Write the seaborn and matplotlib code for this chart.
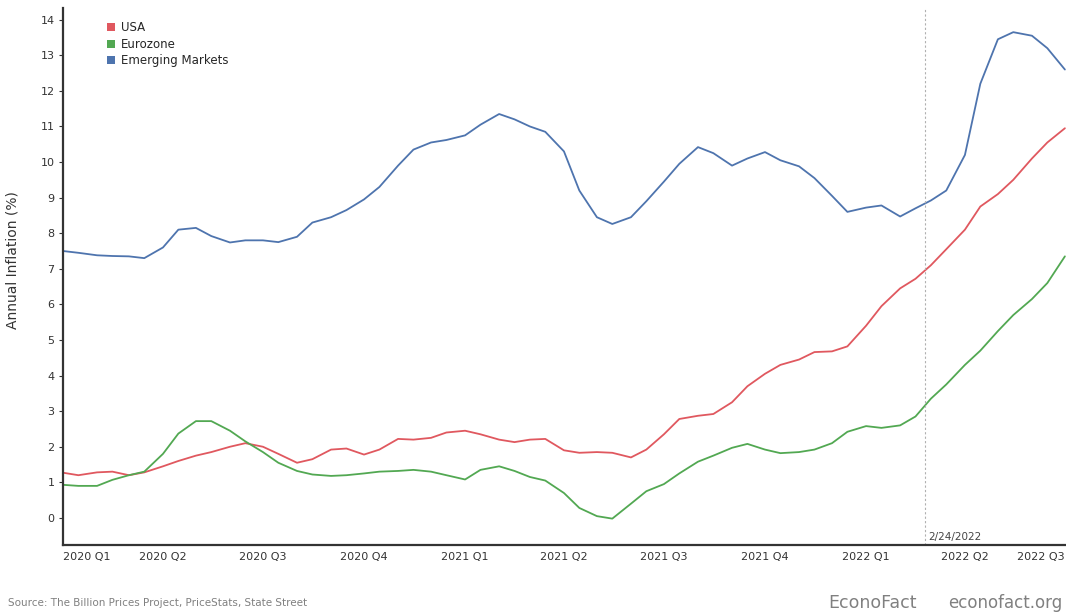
import matplotlib
matplotlib.use("Agg")
import matplotlib.pyplot as plt
from matplotlib.patches import Patch
import pandas as pd
import seaborn as sns

# semi-monthly sample dates (1st and 15th), Jan 2020 - Jul 2022
dates = pd.date_range("2020-01-01", "2022-07-01", freq="SMS")

usa = [1.27, 1.2, 1.28, 1.3, 1.2, 1.28, 1.45, 1.6, 1.75, 1.85, 2.0, 2.1, 2.0, 1.8,
       1.55, 1.65, 1.92, 1.95, 1.78, 1.92, 2.22, 2.2, 2.25, 2.4, 2.45, 2.35, 2.2,
       2.13, 2.2, 2.22, 1.9, 1.83, 1.85, 1.83, 1.7, 1.92, 2.35, 2.78, 2.87, 2.92,
       3.25, 3.7, 4.05, 4.3, 4.45, 4.66, 4.68, 4.82, 5.4, 5.95, 6.45, 6.72, 7.1,
       7.55, 8.1, 8.75, 9.1, 9.5, 10.1, 10.55, 10.95]
eurozone = [0.93, 0.9, 0.9, 1.07, 1.2, 1.3, 1.8, 2.37, 2.72, 2.72, 2.45, 2.15, 1.85,
            1.55, 1.32, 1.22, 1.18, 1.2, 1.25, 1.3, 1.32, 1.35, 1.3, 1.2, 1.08,
            1.35, 1.45, 1.32, 1.15, 1.05, 0.7, 0.28, 0.05, -0.02, 0.4, 0.75, 0.95,
            1.25, 1.58, 1.75, 1.97, 2.08, 1.92, 1.82, 1.85, 1.92, 2.1, 2.42, 2.58,
            2.53, 2.6, 2.85, 3.35, 3.75, 4.3, 4.7, 5.25, 5.7, 6.15, 6.6, 7.35]
emerging = [7.5, 7.45, 7.38, 7.36, 7.35, 7.3, 7.6, 8.1, 8.15, 7.92, 7.74, 7.8, 7.8,
            7.75, 7.9, 8.3, 8.45, 8.65, 8.95, 9.3, 9.9, 10.35, 10.55, 10.62, 10.75,
            11.05, 11.35, 11.2, 11.0, 10.85, 10.3, 9.2, 8.45, 8.26, 8.45, 8.9, 9.45,
            9.95, 10.42, 10.25, 9.9, 10.1, 10.28, 10.05, 9.88, 9.55, 9.05, 8.6,
            8.72, 8.78, 8.47, 8.7, 8.92, 9.2, 10.2, 12.2, 13.45, 13.65, 13.55,
            13.2, 12.6]

series_names = ["USA", "Eurozone", "Emerging Markets"]
colors = ["#e0585f", "#52a852", "#4e74ae"]

quarter_ticks = pd.date_range("2020-01-01", "2022-07-01", freq="QS")
quarter_labels = ["2020 Q1", "2020 Q2", "2020 Q3", "2020 Q4", "2021 Q1", "2021 Q2",
                  "2021 Q3", "2021 Q4", "2022 Q1", "2022 Q2", "2022 Q3"]
invasion_date = pd.Timestamp("2022-02-24")

df = pd.concat([
    pd.DataFrame({"Date": dates, "Inflation": vals, "Series": name})
    for name, vals in zip(series_names, [usa, eurozone, emerging])
])

sns.set_theme(style="white")
plt.rcParams["font.family"] = ["DejaVu Sans"]

fig = plt.figure(figsize=(10.66, 6.13), dpi=100)
ax = fig.add_axes([0.0591, 0.111, 0.9409, 0.876])

sns.lineplot(data=df, x="Date", y="Inflation", hue="Series",
             hue_order=series_names, palette=colors, linewidth=1.3,
             legend=False, ax=ax)

ax.axvline(invasion_date, color="#b0b0b0", linewidth=0.8, linestyle=(0, (2, 2)))
ax.text(invasion_date + pd.Timedelta(days=3), -0.55, "2/24/2022",
        fontsize=7.5, color="#444444", ha="left", va="center")

ax.set_xlim(pd.Timestamp("2020-01-01"), pd.Timestamp("2022-07-02"))
ax.set_ylim(-0.76, 14.33)
ax.set_yticks(range(0, 15))
ax.set_xticks(quarter_ticks)
ax.set_xticklabels(quarter_labels)
labels = ax.get_xticklabels()
labels[0].set_horizontalalignment("left")
labels[-1].set_horizontalalignment("right")

ax.tick_params(axis="both", labelsize=8, colors="#333333", length=3, width=0.8,
               direction="out", pad=3)
ax.tick_params(axis="x", length=0, pad=5)
ax.tick_params(left=True, bottom=False)

for side in ["top", "right"]:
    ax.spines[side].set_visible(False)
for side in ["left", "bottom"]:
    ax.spines[side].set_color("#333333")
    ax.spines[side].set_linewidth(1.6)

ax.set_xlabel("")
ax.set_ylabel("Annual Inflation (%)", fontsize=10, color="#333333")
ax.yaxis.set_label_coords(-0.043, 0.53)

handles = [Patch(facecolor=c, edgecolor="none", label=n)
           for n, c in zip(series_names, colors)]
ax.legend(handles=handles, loc="upper left", bbox_to_anchor=(0.044, 0.975),
          frameon=False, fontsize=8.5, handlelength=0.7, handleheight=0.7,
          handletextpad=0.5, labelspacing=0.3, borderaxespad=0, borderpad=0)

fig.text(8 / 1066, 10 / 613, "Source: The Billion Prices Project, PriceStats, State Street",
         fontsize=7.5, color="#808080", ha="left", va="center")
fig.text(828 / 1066, 10 / 613, "EconoFact", fontsize=12.5, color="#808080",
         ha="left", va="center")
fig.text(1062 / 1066, 10 / 613, "econofact.org", fontsize=12, color="#808080",
         ha="right", va="center")

fig.savefig("out.png", dpi=100)
